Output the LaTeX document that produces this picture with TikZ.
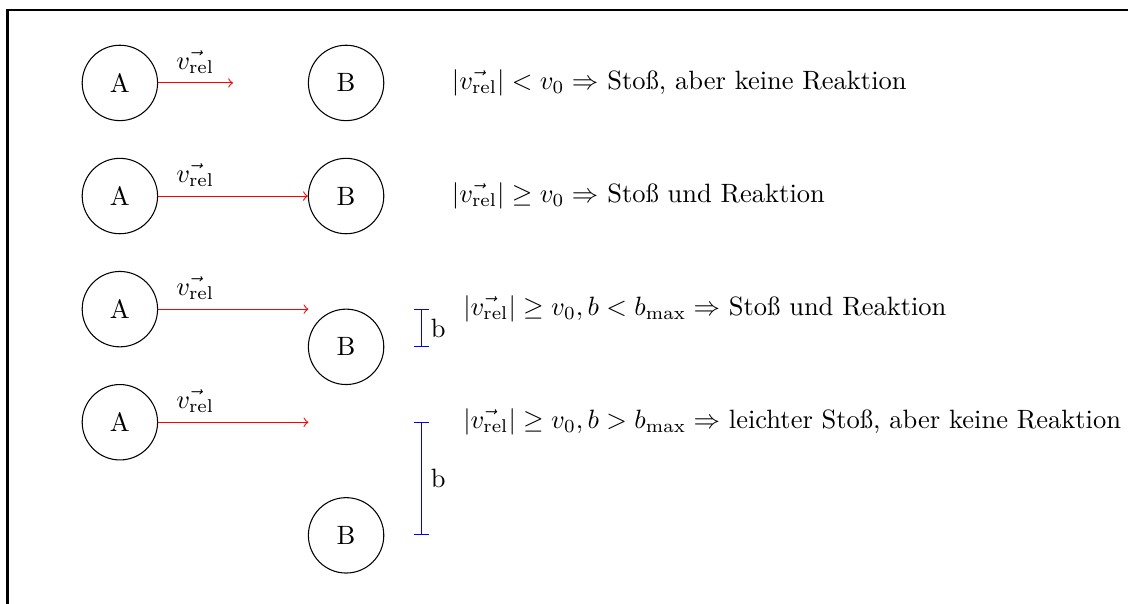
\documentclass[tikz,border=0pt]{standalone}
\usetikzlibrary{calc}
\begin{document}
\begin{tikzpicture}[
  ball/.style={circle,draw,minimum size=1cm,inner sep=0pt},
  vel/.style={->,red},
  imp/.style={|-|,blue},
  txt/.style={anchor=west}
]
\useasboundingbox (-1.59,1.10) rectangle (13.37,-6.90);
\draw[line width=0.8pt] (-1.49,-7.5) -- (-1.49,0.97) -- (14,0.97);

\node[ball] (a1) at (0,0) {A};
\node[ball] (b1) at (3,0) {B};
\node[ball] (a2) at (0,-1.5) {A};
\node[ball] (b2) at (3,-1.5) {B};
\node[ball] (a3) at (0,-3) {A};
\node[ball] (b3) at (3,-3.5) {B};
\node[ball] (a4) at (0,-4.5) {A};
\node[ball] (b4) at (3,-6) {B};

\coordinate (e1) at (1.5,0);
\coordinate (e3) at (2.5,-3);
\coordinate (e4) at (2.5,-4.5);
\coordinate (bx) at (4,0);

\draw[vel] (a1) -- (e1);
\draw[vel] (a2) -- (b2);
\draw[vel] (a3) -- (e3);
\draw[vel] (a4) -- (e4);

\node[above] (l1) at (1,0) {$\vec{v_{\mathrm{rel}}}$};
\node[above] (l2) at (1,-1.5) {$\vec{v_{\mathrm{rel}}}$};
\node[above] (l3) at (1,-3) {$\vec{v_{\mathrm{rel}}}$};
\node[above] (l4) at (1,-4.5) {$\vec{v_{\mathrm{rel}}}$};

\draw[imp] (a3 -| bx) -- node[right,text=black] (bl3) {b} (b3 -| bx);
\draw[imp] (a4 -| bx) -- node[right,text=black] (bl4) {b} (b4 -| bx);

\node[txt] (t1) at (4.28,0) {$|\vec{v_{\mathrm{rel}}}| < v_0 \Rightarrow$ Stoß, aber keine Reaktion};
\node[txt] (t2) at (4.28,-1.5) {$|\vec{v_{\mathrm{rel}}}| \geq v_0 \Rightarrow$ Stoß und Reaktion};
\node[txt] (t3) at (4.43,-3) {$|\vec{v_{\mathrm{rel}}}| \geq v_0, b < b_{\max} \Rightarrow$ Stoß und Reaktion};
\node[txt] (t4) at (4.43,-4.5) {$|\vec{v_{\mathrm{rel}}}| \geq v_0, b > b_{\max} \Rightarrow$ leichter Stoß, aber keine Reaktion};
\end{tikzpicture}
\end{document}
